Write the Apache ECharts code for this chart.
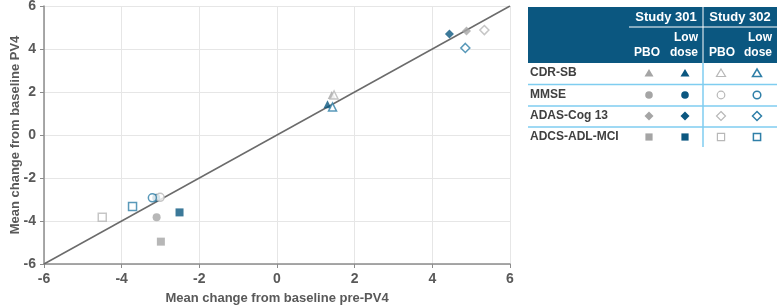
<!DOCTYPE html>
<html>
<head>
<meta charset="utf-8">
<script src="https://cdn.jsdelivr.net/npm/echarts@6/dist/echarts.min.js"></script>
<style>
  html, body { margin: 0; padding: 0; background: #fff; }
  #chart { width: 777px; height: 308px; }
</style>
</head>
<body>
<div id="chart"></div>
<script>
// outcome measures, one symbol each
const measures = ['CDR-SB', 'MMSE', 'ADAS-Cog 13', 'ADCS-ADL-MCI'];
const symbols = ['triangle', 'circle', 'diamond', 'rect'];

// x = pre-PV4, y = PV4
const pbo301X = [1.41, -3.10, 4.88, -2.99];
const pbo301Y = [1.86, -3.83, 4.84, -4.96];
const low301X = [1.30, -3.11, 4.44, -2.51];
const low301Y = [1.43, -2.92, 4.70, -3.60];
const pbo302X = [1.47, -3.01, 5.34, -4.50];
const pbo302Y = [1.86, -2.90, 4.88, -3.83];
const low302X = [1.43, -3.21, 4.85, -3.72];
const low302Y = [1.30, -2.92, 4.05, -3.32];

const ticks = [-6, -4, -2, 0, 2, 4, 6];

const DARK = '#0b5780';
const GREY = '#a5a5a5';
const LGREY = '#b8b8b8';
const OBLUE = '#2f7fa8';
const LINE = '#7fcdf0';

function symSize(s) {
	if (s === 'triangle') return 8;
	if (s === 'diamond') return 9;
	return 8;
}

function makeSeries(name, xs, ys, color, open) {
	return {
		name: name,
		type: 'scatter',
		z: 3,
		data: xs.map((x, i) => ({
			value: [x, ys[i]],
			symbol: symbols[i],
			symbolSize: symSize(symbols[i])
		})),
		itemStyle: open
			? { color: '#fff', borderColor: color, borderWidth: 1.5 }
			: { color: color }
	};
}

var chart = echarts.init(document.getElementById('chart'));

// legend table on the right
var tbl = [];
var tx = 528, tr = 777;
tbl.push({ type: 'rect', shape: { x: tx, y: 7, width: tr - tx, height: 56 }, style: { fill: DARK } });
tbl.push({ type: 'line', shape: { x1: 629, y1: 27, x2: tr, y2: 27 }, style: { stroke: '#fff', lineWidth: 1 } });
tbl.push({ type: 'line', shape: { x1: 703, y1: 7, x2: 703, y2: 63 }, style: { stroke: '#fff', lineWidth: 1 } });
tbl.push({ type: 'line', shape: { x1: 703, y1: 63, x2: 703, y2: 147 }, style: { stroke: LINE, lineWidth: 1.5 } });
var hdr = { fill: '#fff', font: 'bold 12px "Liberation Sans", Arial, sans-serif' };
function txt(x, y, s, align, extra) {
	return { type: 'text', x: x, y: y, style: Object.assign({}, extra || hdr, { text: s, textAlign: align, textVerticalAlign: 'middle' }) };
}
tbl.push(txt(666, 17, 'Study 301', 'center', { fill: '#fff', font: 'bold 13px "Liberation Sans", Arial, sans-serif' }));
tbl.push(txt(740, 17, 'Study 302', 'center', { fill: '#fff', font: 'bold 13px "Liberation Sans", Arial, sans-serif' }));
tbl.push(txt(647, 53, 'PBO', 'center'));
tbl.push(txt(698, 38, 'Low', 'right'));
tbl.push(txt(698, 53, 'dose', 'right'));
tbl.push(txt(722, 53, 'PBO', 'center'));
tbl.push(txt(772, 38, 'Low', 'right'));
tbl.push(txt(772, 53, 'dose', 'right'));

var rowY = [73, 95, 116, 137];
var colX = [649, 685, 721, 757];
var colStyle = [
	{ fill: GREY },
	{ fill: DARK },
	{ fill: '#fff', stroke: LGREY, lineWidth: 1.2 },
	{ fill: '#fff', stroke: OBLUE, lineWidth: 1.5 }
];
var rowFont = { fill: '#404040', font: 'bold 12px "Liberation Sans", Arial, sans-serif' };

function legendShape(kind, cx, cy, st) {
	if (kind === 'triangle') return { type: 'polygon', shape: { points: [[cx, cy - 4], [cx + 4.5, cy + 3.5], [cx - 4.5, cy + 3.5]] }, style: st };
	if (kind === 'circle') return { type: 'circle', shape: { cx: cx, cy: cy, r: 3.8 }, style: st };
	if (kind === 'diamond') return { type: 'polygon', shape: { points: [[cx, cy - 4.5], [cx + 4.5, cy], [cx, cy + 4.5], [cx - 4.5, cy]] }, style: st };
	return { type: 'rect', shape: { x: cx - 3.6, y: cy - 3.6, width: 7.2, height: 7.2 }, style: st };
}

measures.forEach((m, r) => {
	tbl.push(txt(530, rowY[r], m, 'left', rowFont));
	colX.forEach((cx, c) => {
		tbl.push(legendShape(symbols[r], cx, rowY[r], colStyle[c]));
	});
	if (r < measures.length - 1) {
		var ly = (rowY[r] + rowY[r + 1]) / 2 + 0.5;
		tbl.push({ type: 'line', shape: { x1: tx, y1: ly, x2: tr, y2: ly }, style: { stroke: LINE, lineWidth: 1.5 } });
	}
});

var axisText = { color: '#595959', fontWeight: 'bold', fontSize: 14, fontFamily: '"Liberation Sans", Arial, sans-serif' };
var nameText = { color: '#595959', fontWeight: 'bold', fontSize: 13, fontFamily: '"Liberation Sans", Arial, sans-serif' };

var option = {
	animation: false,
	grid: { left: 44, right: 267, top: 6, bottom: 44, outerBoundsMode: 'none' },
	xAxis: {
		type: 'value', min: -6, max: 6, interval: 2,
		name: 'Mean change from baseline pre-PV4',
		nameLocation: 'middle', nameGap: 28, nameMoveOverlap: false,
		nameTextStyle: nameText,
		axisLine: { onZero: false, lineStyle: { color: '#8c8c8c', width: 1.5 } },
		axisTick: { show: true, length: 4, lineStyle: { color: '#8c8c8c' } },
		axisLabel: Object.assign({ margin: 8 }, axisText),
		splitLine: { lineStyle: { color: '#e6e6e6' } }
	},
	yAxis: {
		type: 'value', min: -6, max: 6, interval: 2,
		name: 'Mean change from baseline PV4',
		nameLocation: 'middle', nameGap: 22, nameMoveOverlap: false,
		nameTextStyle: nameText,
		axisLine: { show: true, onZero: false, lineStyle: { color: '#8c8c8c', width: 1.5 } },
		axisTick: { show: true, length: 4, lineStyle: { color: '#8c8c8c' } },
		axisLabel: Object.assign({ margin: 8 }, axisText),
		splitLine: { lineStyle: { color: '#e6e6e6' } }
	},
	series: [
		{
			type: 'line', silent: true, symbol: 'none', z: 2,
			data: [[ticks[0], ticks[0]], [ticks[ticks.length - 1], ticks[ticks.length - 1]]],
			lineStyle: { color: '#6b6b6b', width: 1.5 }
		},
		makeSeries('Study 301 PBO', pbo301X, pbo301Y, GREY, false),
		makeSeries('Study 301 Low dose', low301X, low301Y, DARK, false),
		makeSeries('Study 302 PBO', pbo302X, pbo302Y, LGREY, true),
		makeSeries('Study 302 Low dose', low302X, low302Y, OBLUE, true)
	],
	graphic: tbl
};
chart.setOption(option);
</script>
</body>
</html>
